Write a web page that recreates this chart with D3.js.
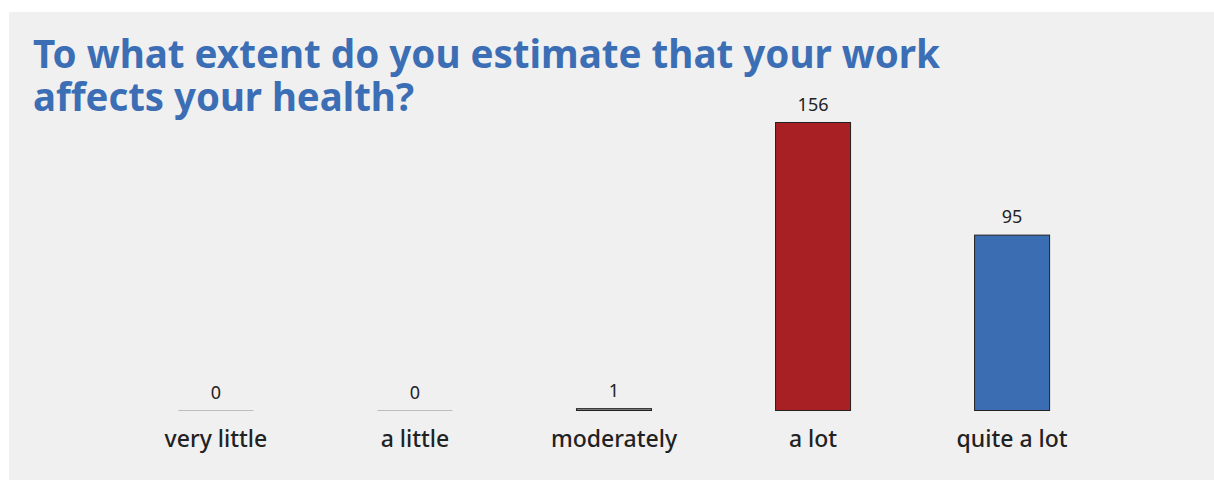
<!DOCTYPE html>
<html>
<head>
<meta charset="utf-8">
<script src="https://cdn.jsdelivr.net/npm/d3@7"></script>
<style>
  html, body { margin: 0; padding: 0; background: #ffffff; }
  svg { display: block; }
</style>
</head>
<body>
<svg id="chart" width="1214" height="481"></svg>
<script>
// Survey answers and respondent counts
const categories = ["very little", "a little", "moderately", "a lot", "quite a lot"];
const counts = [0, 0, 1, 156, 95];
const barColors = ["#8a8a8a", "#8a8a8a", "#8a8a8a", "#a81f24", "#3b6db3"];
const titleLines = ["To what extent do you estimate that your work", "affects your health?"];

const W = 1214, H = 481;
const svg = d3.select("#chart");

// grey card behind the chart
svg.append("rect")
  .attr("x", 9).attr("y", 12)
  .attr("width", W - 9).attr("height", 468)
  .attr("fill", "#f0f0f0");

// title, two lines
const titleWidths = [907, 381];
const title = svg.append("text")
  .attr("font-family", "'Noto Sans', 'Open Sans', sans-serif")
  .attr("font-weight", 700)
  .attr("font-size", 39)
  .attr("fill", "#3b6eb4");
title.selectAll("tspan")
  .data(titleLines)
  .join("tspan")
  .attr("x", 33)
  .attr("y", (d, i) => 68 + i * 43)
  .attr("textLength", (d, i) => titleWidths[i])
  .attr("lengthAdjust", "spacingAndGlyphs")
  .text(d => d);

// scales
const baseline = 410.5;
const x = d3.scaleBand()
  .domain(categories)
  .range([116.5, 1111.5])
  .paddingInner(0.623)
  .paddingOuter(0.311);
const y = d3.scaleLinear()
  .domain([0, 156])
  .range([baseline, 122.5]);

const g = svg.append("g");

const rows = categories.map((c, i) => ({ c, v: counts[i], col: barColors[i] }));

// zero-value categories get a thin grey rule at the baseline
g.selectAll("line.zero")
  .data(rows.filter(d => d.v === 0))
  .join("line")
  .attr("class", "zero")
  .attr("x1", d => x(d.c))
  .attr("x2", d => x(d.c) + x.bandwidth())
  .attr("y1", baseline).attr("y2", baseline)
  .attr("stroke", "#bdbdbd")
  .attr("stroke-width", 1);

g.selectAll("rect.bar")
  .data(rows.filter(d => d.v > 0))
  .join("rect")
  .attr("class", "bar")
  .attr("x", d => x(d.c))
  .attr("y", d => y(d.v))
  .attr("width", x.bandwidth())
  .attr("height", d => baseline - y(d.v))
  .attr("fill", d => d.col)
  .attr("stroke", "#222222")
  .attr("stroke-width", 1);

// value labels above each bar
g.selectAll("text.val")
  .data(rows)
  .join("text")
  .attr("class", "val")
  .attr("x", d => x(d.c) + x.bandwidth() / 2)
  .attr("y", d => y(d.v) - 12)
  .attr("text-anchor", "middle")
  .attr("font-family", "'Noto Sans', sans-serif")
  .attr("font-size", 18)
  .attr("fill", "#222222")
  .text(d => d.v);

// category axis without line or ticks
const xAxis = g.append("g")
  .attr("transform", `translate(0,${baseline})`)
  .call(d3.axisBottom(x).tickSize(0).tickPadding(20));
xAxis.select(".domain").remove();
xAxis.selectAll("text")
  .attr("font-family", "'Noto Sans', sans-serif")
  .attr("font-weight", 500)
  .attr("font-size", 23)
  .attr("fill", "#222222");
</script>
</body>
</html>
